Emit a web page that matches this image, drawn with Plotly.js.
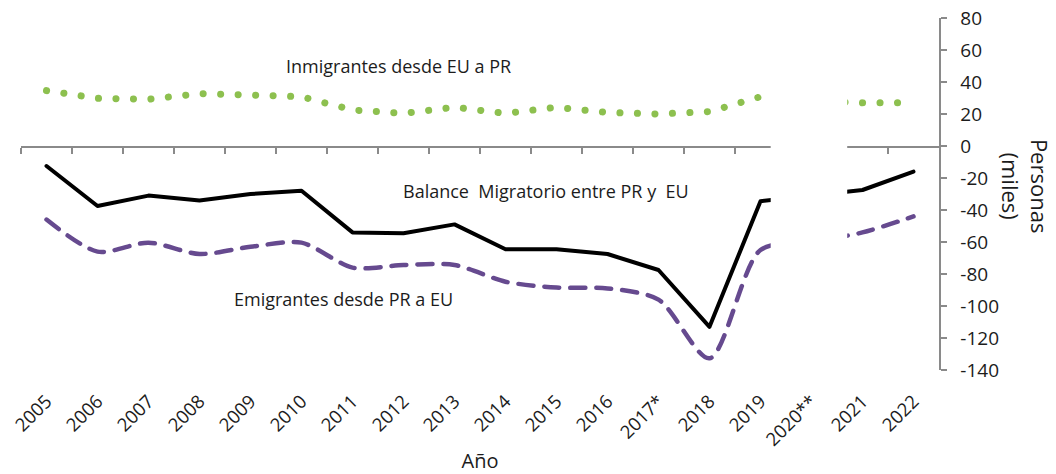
<!DOCTYPE html>
<html>
<head>
<meta charset="utf-8">
<script src="https://cdn.plot.ly/plotly-3.0.1.min.js"></script>
<style>
  html, body { margin: 0; padding: 0; background: #fff; }
  #chart { width: 1056px; height: 474px; }
  .scatterlayer .js-line { stroke-linecap: round; stroke-linejoin: round; }
</style>
</head>
<body>
<div id="chart"></div>
<script>
// Categories (years)
const years = ["2005","2006","2007","2008","2009","2010","2011","2012","2013","2014","2015","2016","2017*","2018","2019","2020**","2021","2022"];

// Series values (thousands of persons)
const inmigrantes = [34.6, 29.8, 29.2, 32.7, 31.9, 30.8, 22.5, 20.4, 24.2, 20.4, 24.2, 21.0, 20.0, 21.5, 30.8, 28.0, 27.0, 27.0];
const emigrantes  = [-46.0, -66.0, -60.4, -67.5, -63.0, -60.4, -76.0, -74.4, -74.4, -84.8, -88.5, -89.0, -96.0, -132.7, -65.0, -60.0, -54.0, -44.0];
const balance     = [-12.5, -37.5, -31.0, -34.0, -30.0, -28.0, -54.0, -54.5, -49.0, -64.5, -64.5, -67.5, -77.5, -113.0, -34.5, -31.0, -27.5, -16.0];

// Labels
const labelInm = "Inmigrantes desde EU a PR";
const labelBal = "Balance\u00a0 Migratorio entre PR y\u00a0 EU";
const labelEmi = "Emigrantes desde PR a EU";
const yTitle = "Personas<br>(miles)";
const xTitle = "Año";

const yTicks = [80, 60, 40, 20, 0, -20, -40, -60, -80, -100, -120, -140];
const yTickText = yTicks.map(v => String(v));

const FONT = "Open Sans, Noto Sans, sans-serif";
const TXT = "#1c1c1c";
const AXC = "#8a8a8a";

// boundaries between categories (for tick marks on the zero line)
const boundaries = years.map((_, i) => i - 0.5);

const traces = [
  {
    x: years, y: inmigrantes, type: "scatter", mode: "lines",
    line: { color: "#8dc04f", width: 7, dash: "0.1px,17.4px" },
    hoverinfo: "skip", showlegend: false
  },
  {
    x: years, y: emigrantes, type: "scatter", mode: "lines",
    line: { color: "#664a8f", width: 4.5, dash: "15px,11px", shape: "spline", smoothing: 0.8 },
    hoverinfo: "skip", showlegend: false
  },
  {
    x: years, y: balance, type: "scatter", mode: "lines",
    line: { color: "#000000", width: 4 },
    hoverinfo: "skip", showlegend: false
  },
  {
    x: [boundaries[0], years.length - 0.5], y: [0, 0], xaxis: "x2", yaxis: "y",
    type: "scatter", mode: "none", hoverinfo: "skip", showlegend: false
  }
];

const yMin = -140, yMax = 80;

const layout = {
  width: 1056, height: 474,
  margin: { l: 21, r: 117, t: 18, b: 104 },
  paper_bgcolor: "#ffffff", plot_bgcolor: "#ffffff",
  font: { family: FONT, color: TXT, size: 18 },
  showlegend: false,
  xaxis: {
    type: "category",
    range: [-0.5, years.length - 0.5],
    showline: false, ticks: "", showgrid: false, zeroline: false,
    tickangle: -45,
    ticklabelstandoff: 16,
    tickfont: { family: FONT, size: 18.5, color: TXT },
    title: { text: xTitle, font: { family: FONT, size: 20, color: TXT }, standoff: 7 },
    fixedrange: true
  },
  xaxis2: {
    type: "linear",
    overlaying: "x",
    anchor: "free",
    position: (0 - yMin) / (yMax - yMin),
    range: [-0.5, years.length - 0.5],
    tickmode: "array", tickvals: boundaries,
    ticks: "outside", ticklen: 6, tickwidth: 1.5, tickcolor: AXC,
    showline: true, linecolor: AXC, linewidth: 1.5,
    showticklabels: false, showgrid: false, zeroline: false,
    fixedrange: true
  },
  yaxis: {
    side: "right",
    range: [yMin, yMax],
    tickmode: "array", tickvals: yTicks, ticktext: yTickText,
    ticks: "outside", ticklen: 6, tickwidth: 1.5, tickcolor: AXC,
    showline: true, linecolor: AXC, linewidth: 1.5,
    showgrid: false, zeroline: false,
    ticklabelstandoff: 10,
    tickfont: { family: FONT, size: 19, color: TXT },
    fixedrange: true
  },
  shapes: [
    {
      type: "rect", xref: "x", yref: "paper",
      x0: 14.2, x1: 15.7, y0: -0.01, y1: 1.01,
      fillcolor: "#ffffff", line: { width: 0 }, layer: "above"
    }
  ],
  annotations: [
    { text: labelInm, xref: "paper", yref: "paper", x: 0.4112, y: 0.8636,
      xanchor: "center", yanchor: "middle", showarrow: false,
      font: { family: FONT, size: 18, color: TXT } },
    { text: labelBal, xref: "paper", yref: "paper", x: 0.5719, y: 0.5085,
      xanchor: "center", yanchor: "middle", showarrow: false,
      font: { family: FONT, size: 18, color: TXT } },
    { text: labelEmi, xref: "paper", yref: "paper", x: 0.3508, y: 0.2017,
      xanchor: "center", yanchor: "middle", showarrow: false,
      font: { family: FONT, size: 18, color: TXT } },
    { text: yTitle, xref: "paper", yref: "paper", x: 1.0937, y: 0.523,
      xanchor: "center", yanchor: "middle", showarrow: false, textangle: 90,
      font: { family: FONT, size: 22, color: TXT } }
  ]
};

Plotly.newPlot("chart", traces, layout, { displayModeBar: false, staticPlot: true });
</script>
</body>
</html>
